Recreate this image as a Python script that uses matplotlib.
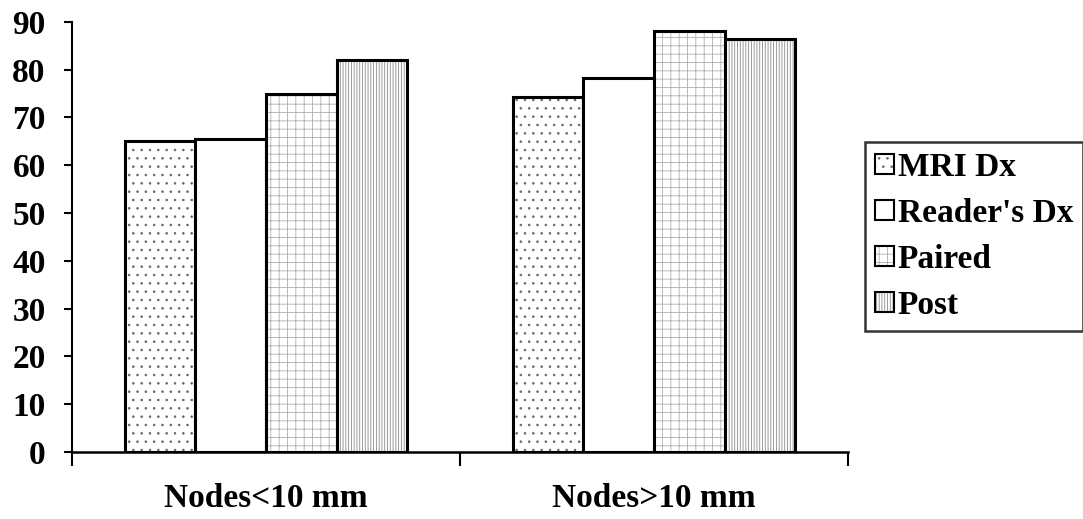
import matplotlib
matplotlib.use("Agg")
import matplotlib.pyplot as plt
from matplotlib.patches import Patch
import numpy as np

plt.rcParams['font.family'] = ['Liberation Serif', 'DejaVu Serif']
plt.rcParams['font.weight'] = 'bold'
plt.rcParams['hatch.linewidth'] = 0.6

categories = ['Nodes<10 mm', 'Nodes>10 mm']
series = ["MRI Dx", "Reader's Dx", "Paired", "Post"]
mri_dx = [65.0, 74.3]
readers_dx = [65.5, 78.3]
paired = [75.0, 88.0]
post = [82.0, 86.5]
yticks = [0, 10, 20, 30, 40, 50, 60, 70, 80, 90]

values = [mri_dx, readers_dx, paired, post]
hatches = ['..', '', '++', '||||||']
hatch_colors = ['#666666', 'black', '#b0b0b0', '#8a8a8a']

fig = plt.figure(figsize=(10.83, 5.19), dpi=100)
ax = fig.add_axes([0.0665, 0.129, 0.7165, 0.829])

x = np.arange(len(categories))
w = 1 / 5.5
for i, (name, vals) in enumerate(zip(series, values)):
    ax.bar(x + (i - 1.5) * w, vals, w, color='white', edgecolor=hatch_colors[i],
           hatch=hatches[i], linewidth=0, label=name)
    # black outline drawn separately so hatch can stay grey
    ax.bar(x + (i - 1.5) * w, vals, w, fill=False, edgecolor='black', linewidth=2.2)

ax.set_xlim(-0.5, 1.5)
ax.set_ylim(0, 90)
ax.set_yticks(yticks)
ax.tick_params(axis='y', labelsize=24, length=6, width=1.5, direction='out', pad=13)
ax.set_xticks(x)
ax.set_xticklabels(categories)
ax.tick_params(axis='x', which='major', labelsize=24, length=0, pad=22)
ax.set_xticks([-0.5, 0.5, 1.5], minor=True)
ax.tick_params(axis='x', which='minor', length=10, width=1.5, direction='out')
for lab in ax.get_xticklabels() + ax.get_yticklabels():
    lab.set_fontweight('bold')

ax.spines['top'].set_visible(False)
ax.spines['right'].set_visible(False)
ax.spines['left'].set_linewidth(1.5)
ax.spines['bottom'].set_linewidth(1.8)

handles = [Patch(facecolor='white', edgecolor=hatch_colors[i], hatch=hatches[i], linewidth=0)
           for i in range(4)]
outline = [Patch(fill=False, edgecolor='black', linewidth=1.5) for i in range(4)]
leg = fig.legend([(h, o) for h, o in zip(handles, outline)], series,
                 loc='upper left', bbox_to_anchor=(0.799, 0.727),
                 prop={'family': 'Liberation Serif', 'weight': 'bold', 'size': 24},
                 frameon=True, fancybox=False, edgecolor='black',
                 handlelength=0.55, handleheight=0.55, handletextpad=0.12,
                 labelspacing=0.45, borderpad=0.3, borderaxespad=0)
leg.get_frame().set_linewidth(1.8)

fig.savefig('out.png', dpi=100)
